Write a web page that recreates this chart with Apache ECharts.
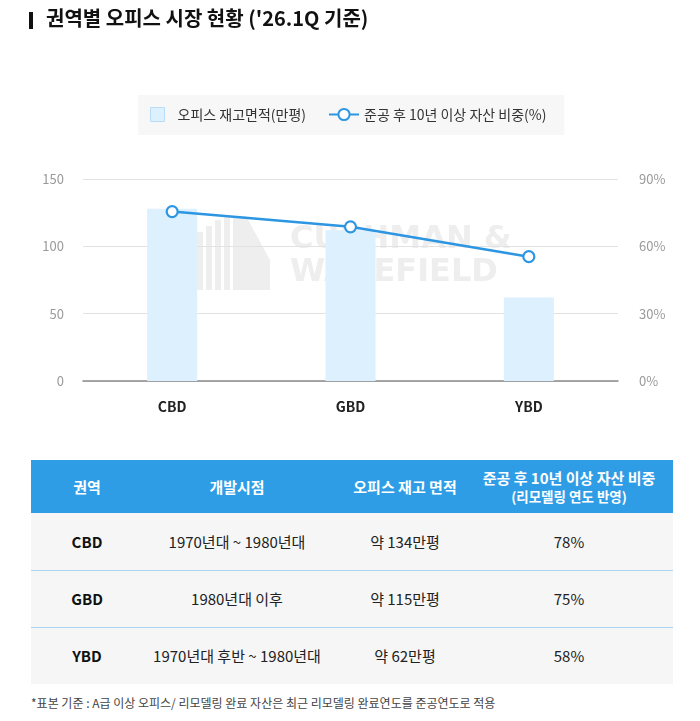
<!DOCTYPE html>
<html>
<head>
<meta charset="utf-8">
<script src="https://cdn.jsdelivr.net/npm/echarts@6/dist/echarts.min.js"></script>
<style>
  html, body { margin: 0; padding: 0; background: #fff; width: 700px; height: 721px; overflow: hidden; font-family: "Noto Sans CJK KR", "Noto Sans", sans-serif; }
  #chart { position: absolute; left: 0; top: 0; width: 700px; height: 440px; }
  #table { position: absolute; left: 31px; top: 460px; width: 642px; }
  .row { display: flex; align-items: center; background: #F6F6F6; height: 56px; border-top: 1px solid #A9D5F2; }
  .row.head { background: #2F9DE6; height: 53px; border-top: none; color: #fff; font-weight: 700; }
  .row.first { border-top: none; height: 57px; }
  .cell { text-align: center; font-size: 15px; color: #222; line-height: 18px; }
  .head .cell { color: #fff; font-size: 15px; font-weight: 700; }
  .head .cell .sub { font-size: 13.5px; display: block; }
  .cell.key { font-weight: 700; color: #111; }
  #note { position: absolute; left: 31px; top: 694px; font-size: 12px; color: #444; }
</style>
</head>
<body>
<div id="chart"></div>
<div id="table"></div>
<div id="note"></div>
<script>
// ---- data ----
const categories = ['CBD', 'GBD', 'YBD'];
const stockArea = [128, 112, 62];          // 오피스 재고면적(만평)
const agedShare = [75.5, 68.7, 55.4];      // 준공 후 10년 이상 자산 비중(%)
const leftTicks = [0, 50, 100, 150];
const rightTicks = [0, 30, 60, 90];
const seriesNames = ['오피스 재고면적(만평)', '준공 후 10년 이상 자산 비중(%)'];
const titleText = "권역별 오피스 시장 현황 ('26.1Q 기준)";

const tableHeader = ['권역', '개발시점', '오피스 재고 면적', '준공 후 10년 이상 자산 비중'];
const tableHeaderSub = ['', '', '', '(리모델링 연도 반영)'];
const tableRegion = ['CBD', 'GBD', 'YBD'];
const tablePeriod = ['1970년대 ~ 1980년대', '1980년대 이후', '1970년대 후반 ~ 1980년대'];
const tableArea = ['약 134만평', '약 115만평', '약 62만평'];
const tableShare = ['78%', '75%', '58%'];
const footnote = '*표본 기준 : A급 이상 오피스/ 리모델링 완료 자산은 최근 리모델링 완료연도를 준공연도로 적용';

// ---- chart ----
const FONT = '"Noto Sans CJK KR", "Noto Sans", sans-serif';
const chart = echarts.init(document.getElementById('chart'), null, { renderer: 'canvas' });
const wmColor = '#eeeeee';
const WZ = -10;
chart.setOption({
  animation: false,
  textStyle: { fontFamily: FONT },
  graphic: [
    { type: 'rect', left: 29, top: 12, shape: { width: 4, height: 17 }, style: { fill: '#111' } },
    { type: 'text', left: 46, top: 8, style: { text: titleText, font: '700 20px ' + FONT, fill: '#111' } },
    // watermark (behind series)
    { type: 'rect', z: WZ, silent: true, shape: { x: 197, y: 232, width: 6, height: 58 }, style: { fill: wmColor } },
    { type: 'rect', z: WZ, silent: true, shape: { x: 206, y: 226, width: 6, height: 64 }, style: { fill: wmColor } },
    { type: 'rect', z: WZ, silent: true, shape: { x: 215, y: 220, width: 6, height: 70 }, style: { fill: wmColor } },
    { type: 'rect', z: WZ, silent: true, shape: { x: 224, y: 216, width: 6, height: 74 }, style: { fill: wmColor } },
    { type: 'polygon', z: WZ, silent: true, shape: { points: [[233, 216], [246, 216], [270, 260], [270, 290], [233, 290]] }, style: { fill: wmColor } },
    { type: 'text', z: WZ, silent: true, style: { x: 290, y: 224, text: 'CUSHMAN &', font: '700 32px "DejaVu Sans"', fill: wmColor } },
    { type: 'text', z: WZ, silent: true, style: { x: 290, y: 257, text: 'WAKEFIELD', font: '700 32px "DejaVu Sans"', fill: wmColor } }
  ],
  legend: {
    left: 138, top: 95,
    padding: [12, 18, 13, 12],
    backgroundColor: '#F7F7F7',
    itemWidth: 30, itemHeight: 14, itemGap: 22,
    textStyle: { fontSize: 14, color: '#333', fontFamily: FONT },
    data: [
      { name: seriesNames[0], icon: 'path://M0,0H14V14H0Z', itemStyle: { color: '#DDF0FD', borderColor: '#B9DDF6', borderWidth: 1 } },
      { name: seriesNames[1] }
    ]
  },
  grid: { left: 83, right: 82, top: 179, bottom: 59, containLabel: false },
  xAxis: {
    type: 'category', data: categories,
    axisLine: { lineStyle: { color: '#8a8a8a', width: 1.5 } },
    axisTick: { show: false },
    axisLabel: { margin: 19, fontSize: 14, fontWeight: 700, color: '#222', fontFamily: FONT }
  },
  yAxis: [
    {
      type: 'value', min: leftTicks[0], max: leftTicks[leftTicks.length - 1], interval: leftTicks[1] - leftTicks[0],
      axisLine: { show: false }, axisTick: { show: false },
      axisLabel: { margin: 19, fontSize: 13, color: '#9a9a9a', fontFamily: FONT },
      splitLine: { lineStyle: { color: '#e2e2e2', width: 1 } }
    },
    {
      type: 'value', min: rightTicks[0], max: rightTicks[rightTicks.length - 1], interval: rightTicks[1] - rightTicks[0],
      axisLine: { show: false }, axisTick: { show: false },
      axisLabel: { margin: 21, fontSize: 13, color: '#9a9a9a', formatter: '{value}%', fontFamily: FONT },
      splitLine: { show: false }
    }
  ],
  series: [
    {
      name: seriesNames[0], type: 'bar', data: stockArea, barWidth: 50,
      itemStyle: { color: '#DDF0FD' }, z: 2
    },
    {
      name: seriesNames[1], type: 'line', yAxisIndex: 1, data: agedShare,
      symbol: 'circle', symbolSize: 11, showAllSymbol: true,
      lineStyle: { color: '#2D96E2', width: 2.5 },
      itemStyle: { color: '#fff', borderColor: '#2D96E2', borderWidth: 2.2 },
      z: 3
    }
  ]
});

// ---- table ----
const colWidths = [112, 188, 148, 180];
function makeRow(cls, cells, keyFirst) {
  const row = document.createElement('div');
  row.className = 'row ' + cls;
  cells.forEach((html, i) => {
    const c = document.createElement('div');
    c.className = 'cell' + (keyFirst && i === 0 ? ' key' : '');
    c.style.width = colWidths[i] + 'px';
    c.innerHTML = html;
    row.appendChild(c);
  });
  return row;
}
const tbl = document.getElementById('table');
tbl.appendChild(makeRow('head', tableHeader.map((h, i) => tableHeaderSub[i] ? h + '<span class="sub">' + tableHeaderSub[i] + '</span>' : h), false));
tableRegion.forEach((r, i) => {
  tbl.appendChild(makeRow(i === 0 ? 'first' : '', [r, tablePeriod[i], tableArea[i], tableShare[i]], true));
});
document.getElementById('note').textContent = footnote;
</script>
</body>
</html>
